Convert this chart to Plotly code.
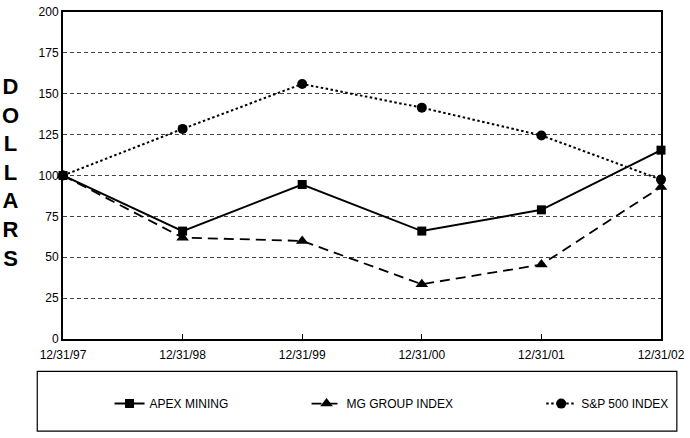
import plotly.graph_objects as go

dates = ["12/31/97", "12/31/98", "12/31/99", "12/31/00", "12/31/01", "12/31/02"]
apex = [100, 66, 94.5, 66, 79, 115.5]
mg = [100, 62, 60, 33.5, 45.5, 93]
sp = [100, 128.5, 156, 141.5, 124.5, 97.5]
y_ticks = [0, 25, 50, 75, 100, 125, 150, 175, 200]

FONT = "Liberation Sans, Arial, sans-serif"
W, H = 690, 438
ML, MR, MT, MB = 63, 23, 5, 99
PW, PH = W - ML - MR, H - MT - MB

def px_x(p):
    return (p - ML) / PW

def px_y(p):
    return (H - MB - p) / PH

fig = go.Figure()
fig.add_trace(go.Scatter(x=dates, y=apex, name="APEX MINING", mode="lines+markers",
                         line=dict(color="black", width=2),
                         marker=dict(symbol="square", size=9, color="black"),
                         cliponaxis=False, showlegend=True, legend="legend"))
fig.add_trace(go.Scatter(x=dates, y=mg, name="MG GROUP INDEX", mode="lines+markers",
                         line=dict(color="black", width=1.8, dash="10px,6px"),
                         marker=dict(symbol="triangle-up", size=11, color="black"),
                         cliponaxis=False, showlegend=True, legend="legend2"))
fig.add_trace(go.Scatter(x=dates, y=sp, name="S&P 500 INDEX", mode="lines+markers",
                         line=dict(color="black", width=2, dash="2.5px,2.5px"),
                         marker=dict(symbol="circle", size=10, color="black"),
                         cliponaxis=False, showlegend=True, legend="legend3"))

legend_common = dict(orientation="h", yanchor="middle", xanchor="left",
                     font=dict(family=FONT, size=12, color="black"),
                     bgcolor="rgba(0,0,0,0)", borderwidth=0, visible=True)
fig.update_layout(
    width=W, height=H,
    showlegend=True,
    margin=dict(l=ML, r=MR, t=MT, b=MB),
    paper_bgcolor="white", plot_bgcolor="white",
    font=dict(family=FONT, size=12, color="black"),
    legend=dict(x=px_x(110), y=px_y(405), **legend_common),
    legend2=dict(x=px_x(309), y=px_y(405), **legend_common),
    legend3=dict(x=px_x(546), y=px_y(405), **legend_common),
    xaxis=dict(type="category", range=[0, len(dates) - 1], showgrid=False,
               showline=True, linecolor="black", linewidth=2, mirror=True,
               ticks="inside", ticklen=5, tickcolor="black", tickwidth=1,
               ticklabelstandoff=4,
               tickfont=dict(family=FONT, size=12, color="black"), zeroline=False),
    yaxis=dict(range=[0, 200], tickvals=y_ticks, showgrid=True,
               gridcolor="#444444", gridwidth=1, griddash="4px,3px",
               showline=True, linecolor="black", linewidth=2, mirror=True,
               ticks="", tickfont=dict(family=FONT, size=12, color="black"),
               zeroline=False),
    shapes=[dict(type="rect", xref="paper", yref="paper",
                 x0=px_x(37), x1=px_x(683), y0=px_y(433), y1=px_y(372),
                 line=dict(color="black", width=1.2), fillcolor="rgba(0,0,0,0)")],
    annotations=[dict(text="<br>".join(list("DOLLARS")), xref="paper", yref="paper",
                      x=px_x(10), y=px_y(169), xanchor="center", yanchor="middle",
                      showarrow=False,
                      font=dict(family=FONT, size=22, color="black", weight="bold"))],
)
fig.write_html("out.html")
